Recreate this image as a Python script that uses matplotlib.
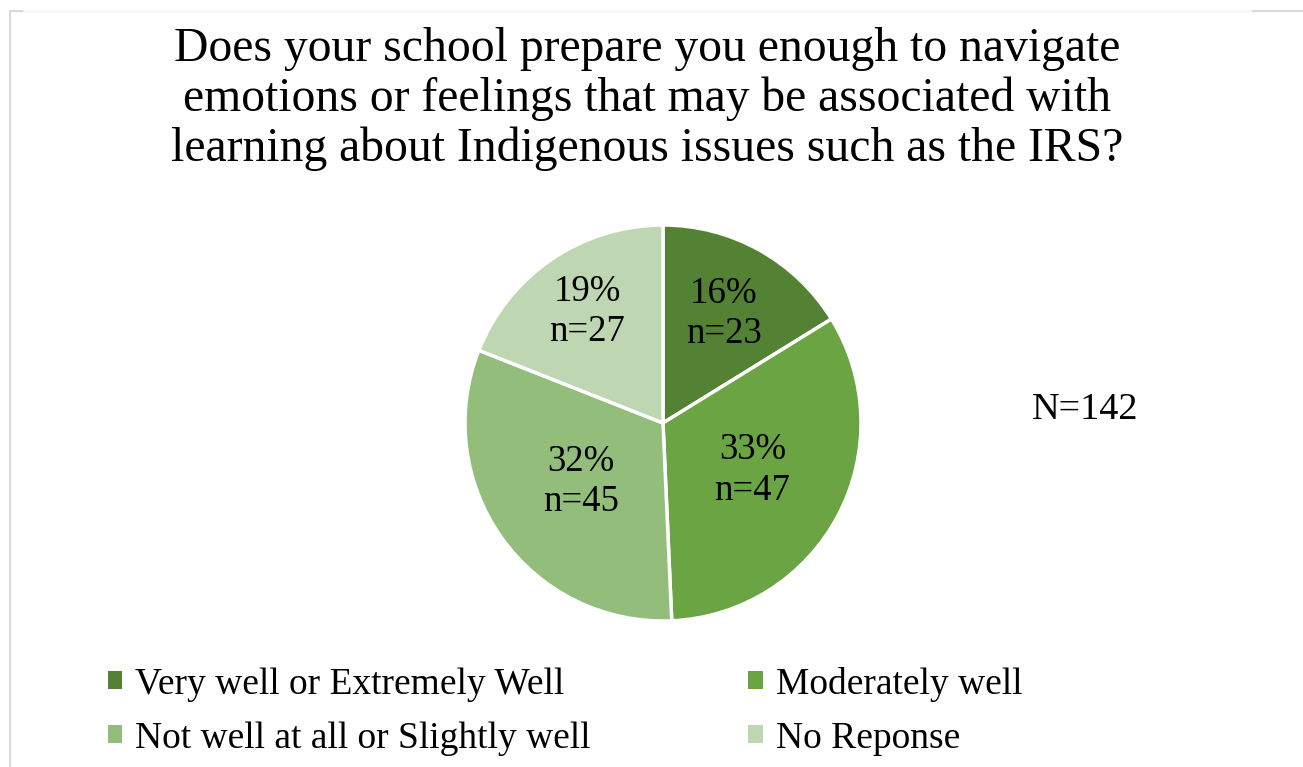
import matplotlib.pyplot as plt
from matplotlib.lines import Line2D
from matplotlib.patches import Patch
import numpy as np

plt.rcParams['font.family'] = ['Liberation Serif', 'DejaVu Serif']

# data
categories = ['Very well or Extremely Well', 'Moderately well',
              'Not well at all or Slightly well', 'No Reponse']
counts = [23, 47, 45, 27]
pct_labels = ['16%', '33%', '32%', '19%']
total_n = 142
title = ('Does your school prepare you enough to navigate\n'
         'emotions or feelings that may be associated with\n'
         'learning about Indigenous issues such as the IRS?')

colors = ['#548235', '#6AA443', '#92BD7B', '#BFD6B3']
label_r = [0.63, 0.51, 0.51, 0.68]   # excel "best fit" look

W, H = 1303, 767
fig = plt.figure(figsize=(W / 100, H / 100), dpi=100)

# pie axes: center (663, 423), radius ~198 px
r = 198
cx, cy = 663, 423
ax = fig.add_axes([(cx - r) / W, 1 - (cy + r) / H, 2 * r / W, 2 * r / H])
wedges, _ = ax.pie(counts, colors=colors, startangle=90, counterclock=False,
                   wedgeprops={'edgecolor': 'white', 'linewidth': 2.5})
ax.set_xlim(-1, 1)
ax.set_ylim(-1, 1)
ax.set_aspect('equal')

for w, pl, n, rr in zip(wedges, pct_labels, counts, label_r):
    ang = np.deg2rad((w.theta1 + w.theta2) / 2)
    ax.text(rr * np.cos(ang), rr * np.sin(ang), '{}\nn={}'.format(pl, n),
            ha='center', va='center', fontsize=26.5, linespacing=1.21)

fig.text(647 / W, 1 - 99 / H, title, ha='center', va='center',
         fontsize=34.3, linespacing=1.165)
fig.text(1085 / W, 1 - 410 / H, 'N={}'.format(total_n), ha='center', va='center',
         fontsize=27.5)

# legend
handles = [Patch(facecolor=c, edgecolor='none') for c in colors]
order = [0, 2, 1, 3]
fig.legend([handles[i] for i in order], [categories[i] for i in order],
           ncol=2, loc='center left', bbox_to_anchor=(108 / W, 1 - 711 / H),
           frameon=False, fontsize=27, handlelength=0.38, handleheight=0.38,
           handletextpad=0.35, columnspacing=4.2, labelspacing=0.52,
           borderpad=0, borderaxespad=0)

# chart frame remains
fig.add_artist(Line2D([10 / W, 10 / W], [0, 1 - 11 / H], color='#D9D9D9', lw=1.5))
fig.add_artist(Line2D([10 / W, 1253 / W], [1 - 11 / H, 1 - 11 / H], color='#F2F2F2', lw=1))
fig.add_artist(Line2D([10 / W, 22 / W], [1 - 11 / H, 1 - 11 / H], color='#D9D9D9', lw=1.5))
fig.add_artist(Line2D([1253 / W, 1], [1 - 11 / H, 1 - 11 / H], color='#D9D9D9', lw=1.5))

plt.savefig('out.png', dpi=100)
